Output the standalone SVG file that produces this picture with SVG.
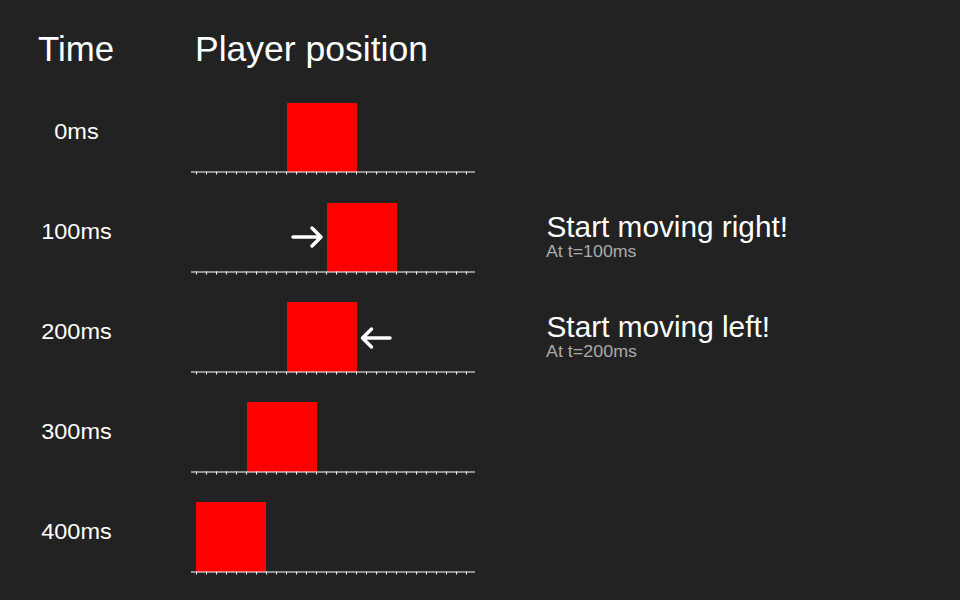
<svg xmlns="http://www.w3.org/2000/svg" xmlns:xlink="http://www.w3.org/1999/xlink" width="960" height="600" viewBox="0 0 960 600">
<style>
text{font-family:"Liberation Sans",Arial,sans-serif;fill:#ffffff}
.h{font-size:35px}
.t{font-size:22.5px;text-anchor:middle}
.big{font-size:29.5px}
.sub{font-size:17px;fill:#aaaaaa}
.box{fill:#ff0000}
.ax{stroke:#ffffff;stroke-width:1;fill:none}
.arr{stroke:#ffffff;stroke-width:3.5;fill:none;stroke-linecap:round;stroke-linejoin:round}
</style>
<defs>
<g id="axis">
<line class="ax" x1="191" y1="0.5" x2="475" y2="0.5"/>
<path class="ax" d="M196.5 0v3M206.5 0v3M216.5 0v3M226.5 0v3M236.5 0v3M246.5 0v3M256.5 0v3M266.5 0v3M276.5 0v3M286.5 0v3M296.5 0v3M306.5 0v3M316.5 0v3M326.5 0v3M336.5 0v3M346.5 0v3M356.5 0v3M366.5 0v3M376.5 0v3M386.5 0v3M396.5 0v3M406.5 0v3M416.5 0v3M426.5 0v3M436.5 0v3M446.5 0v3M456.5 0v3M466.5 0v3"/>
</g>
</defs>
<rect width="960" height="600" fill="#222222"/>
<g id="headers">
<text class="h" x="38" y="61" textLength="76" lengthAdjust="spacingAndGlyphs">Time</text>
<text class="h" x="195" y="61" textLength="233" lengthAdjust="spacingAndGlyphs">Player position</text>
</g>
<g id="row0">
<text class="t" x="76.5" y="139" textLength="44.5" lengthAdjust="spacingAndGlyphs">0ms</text>
<rect class="box" x="287" y="103" width="70" height="69"/>
<use xlink:href="#axis" y="171.5"/>
</g>
<g id="row100">
<text class="t" x="76.5" y="239" textLength="70.5" lengthAdjust="spacingAndGlyphs">100ms</text>
<rect class="box" x="327" y="203" width="70" height="69"/>
<use xlink:href="#axis" y="271.5"/>
</g>
<g id="row200">
<text class="t" x="76.5" y="339" textLength="70.5" lengthAdjust="spacingAndGlyphs">200ms</text>
<rect class="box" x="287" y="302" width="70" height="70"/>
<use xlink:href="#axis" y="371.5"/>
</g>
<g id="row300">
<text class="t" x="76.5" y="439" textLength="70.5" lengthAdjust="spacingAndGlyphs">300ms</text>
<rect class="box" x="247" y="402" width="70" height="70"/>
<use xlink:href="#axis" y="471.5"/>
</g>
<g id="row400">
<text class="t" x="76.5" y="539" textLength="70.5" lengthAdjust="spacingAndGlyphs">400ms</text>
<rect class="box" x="196" y="502" width="70" height="70"/>
<use xlink:href="#axis" y="571.5"/>
</g>
<g id="note100">
<text class="big" x="546.5" y="237" textLength="241.5" lengthAdjust="spacingAndGlyphs">Start moving right!</text>
<text class="sub" x="546" y="256.5" textLength="90.5" lengthAdjust="spacingAndGlyphs">At t=100ms</text>
</g>
<g id="note200">
<text class="big" x="546.5" y="337" textLength="223.5" lengthAdjust="spacingAndGlyphs">Start moving left!</text>
<text class="sub" x="546" y="356.5" textLength="91" lengthAdjust="spacingAndGlyphs">At t=200ms</text>
</g>
<g id="connectors">
<path class="arr" d="M293 237H320.5M312 228L321 237L312 246"/>
<path class="arr" d="M390 338H363.5M371.5 329L362.5 338L371.5 347"/>
</g>
</svg>
